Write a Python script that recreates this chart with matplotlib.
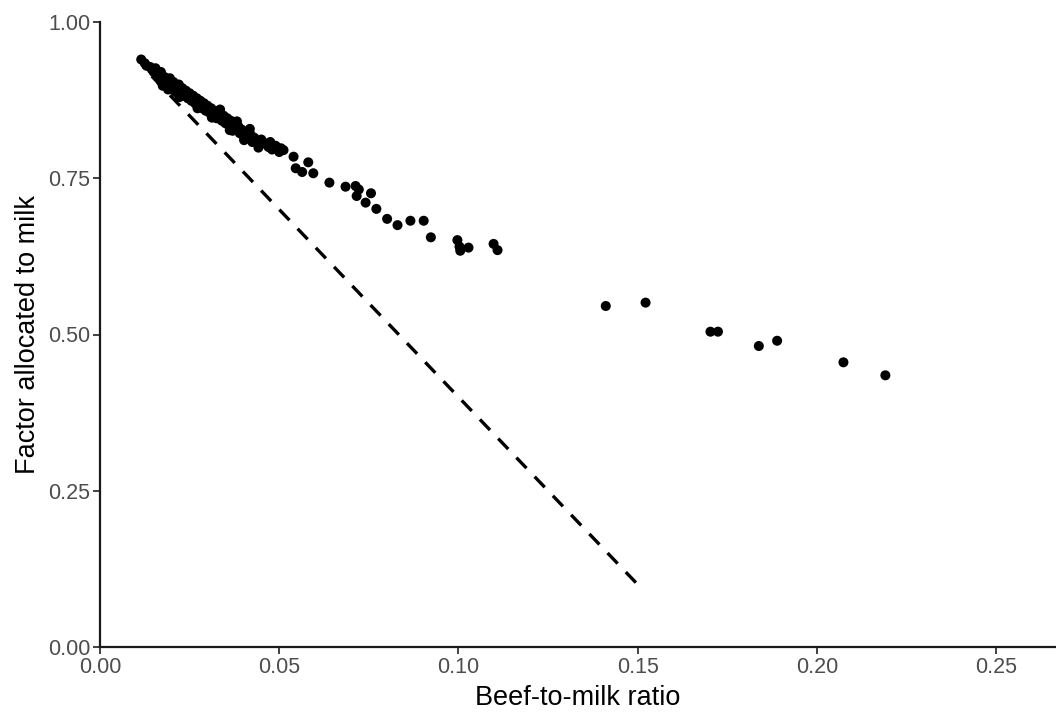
import matplotlib
matplotlib.use("Agg")
import matplotlib.pyplot as plt

plt.rcParams['font.family'] = ['Liberation Sans', 'DejaVu Sans']
plt.rcParams['lines.scale_dashes'] = False

# Beef-to-milk ratio (x) and factor allocated to milk (y)
ratio = [
    0.0115, 0.0125, 0.0130, 0.0140, 0.0145, 0.0150, 0.0155, 0.0160, 0.0165, 0.0170,
    0.0170, 0.0175, 0.0180, 0.0185, 0.0190, 0.0190, 0.0195, 0.0200, 0.0205, 0.0210,
    0.0210, 0.0215, 0.0220, 0.0225, 0.0230, 0.0235, 0.0240, 0.0245, 0.0250, 0.0255,
    0.0260, 0.0265, 0.0270, 0.0275, 0.0280, 0.0285, 0.0290, 0.0295, 0.0300, 0.0305,
    0.0310, 0.0315, 0.0320, 0.0325, 0.0330, 0.0335, 0.0340, 0.0345, 0.0350, 0.0355,
    0.0360, 0.0365, 0.0370, 0.0375, 0.0380, 0.0385, 0.0390, 0.0395, 0.0400, 0.0405,
    0.0410, 0.0420, 0.0425, 0.0430, 0.0440, 0.0445, 0.0450, 0.0460, 0.0470, 0.0475,
    0.0480, 0.0490, 0.0500, 0.0505,
    0.0222, 0.0272, 0.0312, 0.0362, 0.0402, 0.0442, 0.0382, 0.0418,
    0.0512, 0.0540, 0.0546, 0.0564, 0.0581, 0.0595,
    0.0640, 0.0685, 0.0713, 0.0722, 0.0716, 0.0756, 0.0741, 0.0771, 0.0801, 0.0830,
    0.0866, 0.0903, 0.0923, 0.0997, 0.1003, 0.1005, 0.1028, 0.1098, 0.1109,
    0.1411, 0.1522, 0.1703, 0.1724, 0.1838, 0.1889, 0.2074, 0.2191,
]
factor = [
    0.940, 0.934, 0.930, 0.928, 0.924, 0.920, 0.926, 0.916, 0.912, 0.920,
    0.905, 0.898, 0.912, 0.906, 0.900, 0.892, 0.910, 0.896, 0.904, 0.888,
    0.898, 0.892, 0.900, 0.886, 0.894, 0.882, 0.890, 0.878, 0.886, 0.874,
    0.882, 0.870, 0.878, 0.866, 0.874, 0.862, 0.870, 0.858, 0.866, 0.855,
    0.862, 0.850, 0.858, 0.846, 0.855, 0.860, 0.842, 0.850, 0.838, 0.846,
    0.834, 0.842, 0.826, 0.838, 0.830, 0.834, 0.822, 0.828, 0.818, 0.824,
    0.814, 0.820, 0.808, 0.815, 0.810, 0.803, 0.812, 0.806, 0.800, 0.808,
    0.796, 0.802, 0.792, 0.798,
    0.880, 0.862, 0.847, 0.827, 0.811, 0.799, 0.841, 0.829,
    0.795, 0.7845, 0.766, 0.760, 0.7755, 0.758,
    0.743, 0.7365, 0.7376, 0.732, 0.7216, 0.726, 0.711, 0.701, 0.685, 0.675,
    0.682, 0.682, 0.6555, 0.651, 0.6405, 0.634, 0.639, 0.645, 0.635,
    0.5456, 0.551, 0.5045, 0.5045, 0.4816, 0.490, 0.4555, 0.4347,
]

# Reference line: factor = 1 - 6 * ratio (drawn from its lower end so a full dash ends it)
line_x = [0.1495, 0.012]
line_y = [1 - 6 * v for v in line_x]

fig = plt.figure(figsize=(10.56, 7.16), dpi=100)
ax = fig.add_axes([100 / 1056, 69 / 716, 956 / 1056, 625 / 716])

ax.plot(line_x, line_y, color='black', linewidth=2.4, dashes=(10.5, 8.5),
        dash_capstyle='butt', zorder=2)
ax.scatter(ratio, factor, s=52, color='black', edgecolors='none', zorder=3)

ax.set_xlim(0, 0.2667)
ax.set_ylim(0, 1.0)
ax.set_xticks([0.00, 0.05, 0.10, 0.15, 0.20, 0.25])
ax.set_xticklabels(['0.00', '0.05', '0.10', '0.15', '0.20', '0.25'])
ax.set_yticks([0.00, 0.25, 0.50, 0.75, 1.00])
ax.set_yticklabels(['0.00', '0.25', '0.50', '0.75', '1.00'])

for s in ['top', 'right']:
    ax.spines[s].set_visible(False)
for s in ['left', 'bottom']:
    ax.spines[s].set_linewidth(1.6)
    ax.spines[s].set_color('#1a1a1a')
ax.tick_params(axis='both', length=5, width=1.3, color='#333333',
               labelsize=15.5, labelcolor='#4D4D4D', pad=2)

ax.set_xlabel('Beef-to-milk ratio', fontsize=19.5, color='black', labelpad=5)
ax.set_ylabel('Factor allocated to milk', fontsize=19.5, color='black', labelpad=5)

fig.savefig('out.png', dpi=100, facecolor='white')
